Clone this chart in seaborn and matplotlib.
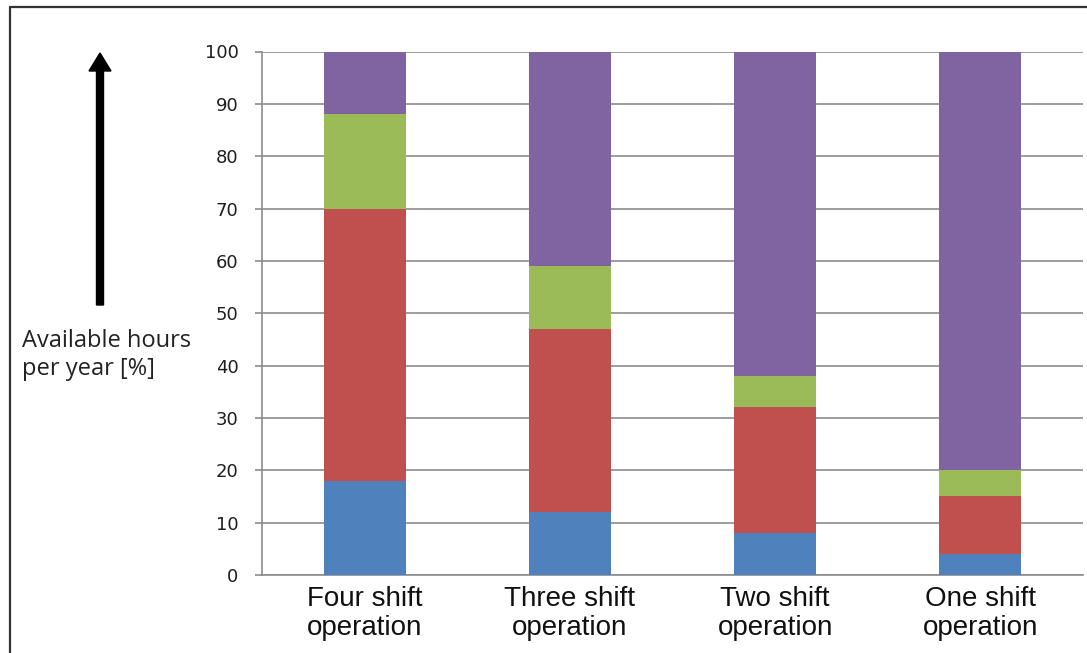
import numpy as np
import pandas as pd
import matplotlib
matplotlib.use("Agg")
import matplotlib.pyplot as plt
from matplotlib.lines import Line2D
from matplotlib.patches import FancyArrow
import seaborn as sns

# Share of available hours per year for each shift model (segment heights, %)
categories = ["Four shift\noperation", "Three shift\noperation",
              "Two shift\noperation", "One shift\noperation"]
blue_vals = [18, 12, 8, 4]
red_vals = [52, 35, 24, 11]
green_vals = [18, 12, 6, 5]
purple_vals = [12, 41, 62, 80]
y_ticks = [0, 10, 20, 30, 40, 50, 60, 70, 80, 90, 100]

segments = [
    ("blue", blue_vals, "#4F81BD"),
    ("red", red_vals, "#C0504D"),
    ("green", green_vals, "#9BBB59"),
    ("purple", purple_vals, "#8064A2"),
]

sns.set_theme(style="white")

fig = plt.figure(figsize=(10.87, 6.53), dpi=100)
fig.patch.set_facecolor("white")
ax = fig.add_axes([262 / 1087, 1 - 575 / 653, (1083 - 262) / 1087, (575 - 51.5) / 653])

# Stacked bars: draw cumulative totals from the top segment downwards
stack = np.cumsum(np.array([s[1] for s in segments]), axis=0)
for (name, vals, color), cum in reversed(list(zip(segments, stack))):
    df = pd.DataFrame({"cat": categories, "val": cum})
    sns.barplot(data=df, x="cat", y="val", color=color, width=0.4,
                saturation=1, linewidth=0, ax=ax, zorder=3)

ax.set_xlim(-0.5, 3.5)
ax.set_ylim(0, 100)
ax.set_yticks(y_ticks)
ax.set_xlabel("")
ax.set_ylabel("")

grid_col = "#8C8C8C"
ax.yaxis.grid(True, color=grid_col, linewidth=1.2, zorder=0)
ax.set_axisbelow(True)
for side in ["top", "right"]:
    ax.spines[side].set_visible(False)
ax.spines["left"].set_color(grid_col)
ax.spines["left"].set_linewidth(1.2)
ax.spines["bottom"].set_color(grid_col)
ax.spines["bottom"].set_linewidth(1.2)

ax.tick_params(axis="y", which="both", left=True, length=5, width=1.2,
               color=grid_col, pad=12, labelsize=13, labelcolor="#1E1E1E")
ax.tick_params(axis="x", which="both", bottom=False, length=0, pad=8,
               labelsize=20, labelcolor="#111111")
for lbl in ax.get_xticklabels():
    lbl.set_fontfamily("Liberation Sans")
    lbl.set_linespacing(1.15)
for lbl in ax.get_yticklabels():
    lbl.set_fontfamily("DejaVu Sans")

# Axis description with an upward arrow on the left
fig.add_artist(FancyArrow(1.00, (653 - 305) / 100, 0, (305 - 53) / 100,
                          width=0.07, head_width=0.22, head_length=0.18,
                          length_includes_head=True, color="black",
                          transform=fig.dpi_scale_trans))
fig.text(22 / 1087, 1 - 355 / 653, "Available hours\nper year [%]",
         ha="left", va="center", fontsize=17, family="Open Sans",
         color="#222222", linespacing=1.2)

# Outer frame
fy = 1 - 7 / 653
fx = 10 / 1087
fig.add_artist(Line2D([fx, fx], [-0.01, fy], color="#333333", linewidth=1.6,
                      transform=fig.transFigure))
fig.add_artist(Line2D([fx, 1.01], [fy, fy], color="#333333", linewidth=1.6,
                      transform=fig.transFigure))

fig.savefig("out.png", dpi=100, facecolor="white")
